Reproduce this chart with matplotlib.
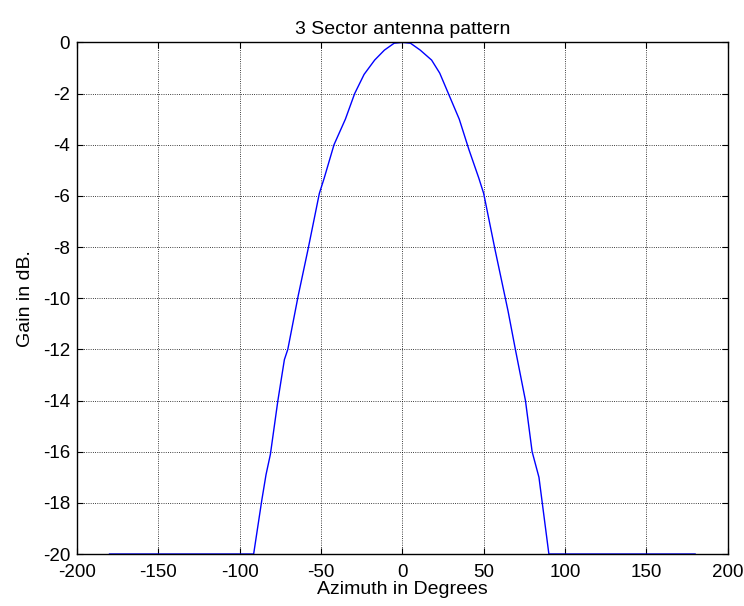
import matplotlib.pyplot as plt

plt.rcParams['font.family'] = ['Liberation Sans', 'DejaVu Sans']
plt.rcParams['axes.unicode_minus'] = False

# valores (azimute em graus, ganho em dB)
azimute = [-180, -91.4, -86.4, -83.8, -81.1, -76.5, -72.5, -70.4, -64, -58, -51, -48, -42, -35,
           -29.3, -23.5, -17, -11, -5, 0, 5, 11, 18, 23, 28, 35, 41, 47, 50, 57, 61,
           65, 69.5, 75.7, 79.8, 84, 90.1, 180]
ganho = [-20, -20, -17.9, -16.9, -16.1, -14.0, -12.4, -12.0, -9.9, -8.1, -5.9, -5.3, -4.0, -3.0,
         -2.0, -1.25, -0.69, -0.3, -0.03, 0, -0.03, -0.3, -0.69, -1.2, -1.95, -3.0, -4.2, -5.3, -5.9, -8.1, -9.3,
         -10.5, -12.0, -14.0, -16.0, -17.0, -20, -20]

xticks = [-200, -150, -100, -50, 0, 50, 100, 150, 200]
yticks = [0, -2, -4, -6, -8, -10, -12, -14, -16, -18, -20]

fig = plt.figure(figsize=(7.44, 6.06), dpi=100)
ax = fig.add_axes([0.1035, 0.0858, 0.8745, 0.8442])
ax.plot(azimute, ganho, color='#0000ff', linewidth=1)

ax.set_xlim(-200, 200)
ax.set_ylim(-20, 0)
ax.set_xticks(xticks)
ax.set_yticks(yticks)
ax.grid(True, color='black', linestyle=':', linewidth=0.6)
ax.tick_params(direction='in', top=True, right=True, length=4, labelsize=13.5)
ax.tick_params(axis='x', pad=7)
ax.tick_params(axis='y', pad=5)
for s in ax.spines.values():
    s.set_linewidth(1)

ax.set_title('3 Sector antenna pattern', fontsize=14, pad=6)
ax.set_xlabel('Azimuth in Degrees', fontsize=14, labelpad=0)
ax.set_ylabel('Gain in dB.', fontsize=14, labelpad=6)

fig.savefig('out.png', dpi=100)
